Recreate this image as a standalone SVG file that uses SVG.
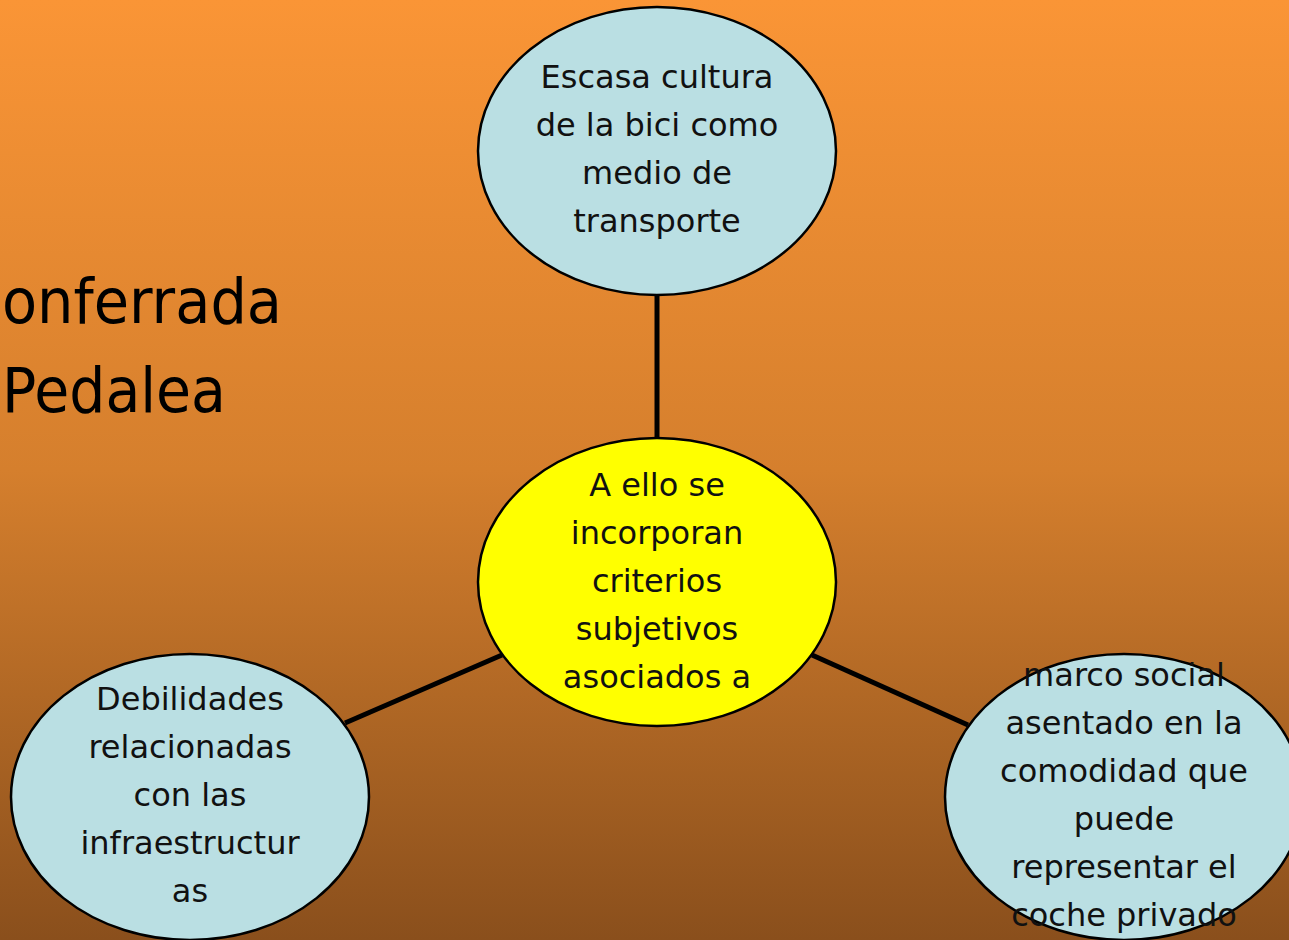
<svg xmlns="http://www.w3.org/2000/svg" width="1289" height="940" viewBox="0 0 1289 940">
<defs>
<linearGradient id="bg" x1="0" y1="0" x2="0" y2="1">
<stop offset="0" stop-color="#FA9536"/>
<stop offset="0.5" stop-color="#D57F2D"/>
<stop offset="1" stop-color="#8A4F1C"/>
</linearGradient>
<style>
.n{stroke:#000;stroke-width:2.5}
.b{fill:#BADFE3}
.y{fill:#FFFF00}
.t{font-family:"DejaVu Sans","Liberation Sans",sans-serif;font-size:32px;fill:#111;text-anchor:middle}
.h{font-family:"DejaVu Sans","Liberation Sans",sans-serif;font-size:62px;fill:#000}
.c{stroke:#000;stroke-width:5;fill:none}
</style>
</defs>
<rect width="1289" height="940" fill="url(#bg)"/>
<g id="title">
<text class="h" x="2" y="323" textLength="280" lengthAdjust="spacingAndGlyphs">onferrada</text>
<text class="h" x="2" y="412" textLength="224" lengthAdjust="spacingAndGlyphs">Pedalea</text>
</g>
<g id="connectors">
<line class="c" x1="657" y1="295" x2="657" y2="439"/>
<line class="c" x1="345" y1="723" x2="502" y2="655"/>
<line class="c" x1="812" y1="655" x2="968" y2="725"/>
</g>
<g id="top">
<ellipse class="n b" cx="657" cy="151" rx="179" ry="144"/>
<text class="t" x="657" y="88">Escasa cultura</text>
<text class="t" x="657" y="136">de la bici como</text>
<text class="t" x="657" y="184">medio de</text>
<text class="t" x="657" y="232">transporte</text>
</g>
<g id="center">
<ellipse class="n y" cx="657" cy="582" rx="179" ry="144"/>
<text class="t" x="657" y="496">A ello se</text>
<text class="t" x="657" y="544">incorporan</text>
<text class="t" x="657" y="592">criterios</text>
<text class="t" x="657" y="640">subjetivos</text>
<text class="t" x="657" y="688">asociados a</text>
</g>
<g id="left">
<ellipse class="n b" cx="190" cy="797" rx="179" ry="143"/>
<text class="t" x="190" y="710">Debilidades</text>
<text class="t" x="190" y="758">relacionadas</text>
<text class="t" x="190" y="806">con las</text>
<text class="t" x="190" y="854">infraestructur</text>
<text class="t" x="190" y="902">as</text>
</g>
<g id="right">
<ellipse class="n b" cx="1124" cy="797" rx="179" ry="143"/>
<text class="t" x="1124" y="686">marco social</text>
<text class="t" x="1124" y="734">asentado en la</text>
<text class="t" x="1124" y="782">comodidad que</text>
<text class="t" x="1124" y="830">puede</text>
<text class="t" x="1124" y="878">representar el</text>
<text class="t" x="1124" y="926">coche privado</text>
</g>
</svg>
